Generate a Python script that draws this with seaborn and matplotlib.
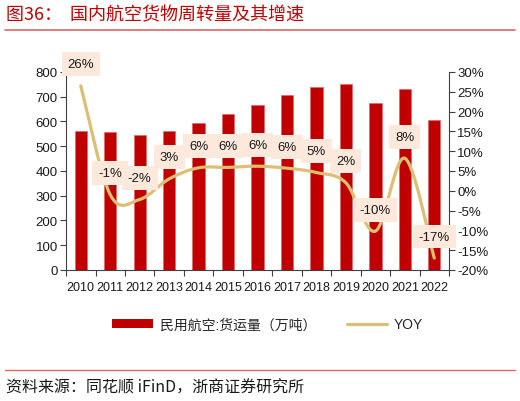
import numpy as np
import pandas as pd
import seaborn as sns
import matplotlib.pyplot as plt
from matplotlib.path import Path
from matplotlib.patches import PathPatch, Patch
from matplotlib.lines import Line2D
from matplotlib.ticker import FuncFormatter, MultipleLocator

# data
years = ['2010', '2011', '2012', '2013', '2014', '2015', '2016',
         '2017', '2018', '2019', '2020', '2021', '2022']
cargo = [563.0, 557.5, 545.0, 561.3, 594.1, 629.3, 668.0,
         705.9, 738.5, 753.1, 676.6, 731.8, 607.6]
yoy = [26.5, -1.0, -2.2, 3.0, 5.8, 5.9, 6.2, 5.7, 4.6, 2.0, -10.2, 8.2, -17.0]
yoy_labels = ['26%', '-1%', '-2%', '3%', '6%', '6%', '6%', '6%', '5%', '2%', '-10%', '8%', '-17%']

title = '图36：  国内航空货物周转量及其增速'
source = '资料来源：同花顺 iFinD，浙商证券研究所'
bar_name = '民用航空:货运量（万吨）'
line_name = 'YOY'

RED = '#C00000'
GOLD = '#DDBF74'
BOX = '#FCE9DB'
SPINE = '#404040'

sns.set_theme(style='white')
plt.rcParams['font.family'] = ['Liberation Sans', 'Noto Sans CJK SC', 'DejaVu Sans']

df = pd.DataFrame({'year': years, 'cargo': cargo, 'yoy': yoy})

fig = plt.figure(figsize=(5.2, 4.02), dpi=100)
ax = fig.add_axes([0.127, 0.326, 0.7365, 0.4925])

sns.barplot(data=df, x='year', y='cargo', color=RED, width=0.42,
            saturation=1, ax=ax, edgecolor='#E06060', linewidth=0.4)
ax.set_xlim(-0.5, len(years) - 0.5)
ax.set_ylim(0, 800)
ax.yaxis.set_major_locator(MultipleLocator(100))
ax.set_xlabel('')
ax.set_ylabel('')

ax2 = ax.twinx()
ax2.set_ylim(-20, 30)
ax2.yaxis.set_major_locator(MultipleLocator(5))
ax2.yaxis.set_major_formatter(FuncFormatter(lambda v, p: f'{v:.0f}%'))

# smoothed line (Catmull-Rom -> cubic bezier, like Excel smooth line)
xs = np.arange(len(years), dtype=float)
pts = np.column_stack([xs, yoy])
verts = [tuple(pts[0])]
codes = [Path.MOVETO]
n = len(pts)
for i in range(n - 1):
    p0 = pts[i - 1] if i > 0 else pts[i]
    p1 = pts[i]
    p2 = pts[i + 1]
    p3 = pts[i + 2] if i + 2 < n else pts[i + 1]
    c1 = p1 + (p2 - p0) / 6.0
    c2 = p2 - (p3 - p1) / 6.0
    verts += [tuple(c1), tuple(c2), tuple(p2)]
    codes += [Path.CURVE4] * 3
ax2.add_patch(PathPatch(Path(verts, codes), fill=False, edgecolor=GOLD,
                        linewidth=2.3, capstyle='round', joinstyle='round'))

for x, v, lab in zip(xs, yoy, yoy_labels):
    ax2.annotate(lab, (x, v), xytext=(0, 15.5), textcoords='offset points',
                 ha='center', va='center', fontsize=9.5, color='#1a1a1a',
                 bbox=dict(boxstyle='square,pad=0.45', fc=BOX, ec='none'),
                 zorder=5)

# axes styling
for a in (ax, ax2):
    a.spines['top'].set_visible(False)
    for s in ('left', 'right', 'bottom'):
        a.spines[s].set_color(SPINE)
        a.spines[s].set_linewidth(0.8)
ax.spines['right'].set_visible(False)
ax2.spines['left'].set_visible(False)
ax2.spines['bottom'].set_visible(False)

ax.tick_params(axis='y', which='major', direction='out', length=4, width=0.8,
               color=SPINE, labelsize=9.5, labelcolor='#1a1a1a', pad=2, left=True)
ax2.tick_params(axis='y', which='major', direction='out', length=4, width=0.8,
                color=SPINE, labelsize=9.5, labelcolor='#1a1a1a', pad=2, right=True)
ax.set_xticks(xs)
ax.set_xticklabels(years)
ax.set_xticks(np.arange(-0.5, len(years), 1.0), minor=True)
ax.tick_params(axis='x', which='major', length=0, labelsize=9,
               labelcolor='#1a1a1a', pad=8)
ax.tick_params(axis='x', which='minor', direction='out', length=4, width=0.8,
               color=SPINE, bottom=True)

# legend
handles = [Patch(facecolor=RED, edgecolor='none'),
           Line2D([0], [0], color=GOLD, linewidth=2.3)]
fig.legend(handles, [bar_name, line_name], loc='center', ncol=2,
           bbox_to_anchor=(0.515, 0.191), frameon=False, fontsize=10,
           handlelength=2.9, handleheight=0.6, handletextpad=0.5,
           columnspacing=2.2)

# title, rules, source
fig.text(0.012, 0.962, title, fontsize=13, color=RED, va='center', ha='left',
         family=['Noto Sans CJK SC', 'DejaVu Sans'])
fig.add_artist(Line2D([0.01, 0.99], [0.923, 0.923], color='#E06666', linewidth=1.2))
fig.add_artist(Line2D([0.01, 0.99], [0.078, 0.078], color='#E06666', linewidth=1.0))
fig.text(0.012, 0.035, source, fontsize=11.5, color='#1a1a1a', va='center',
         ha='left', family=['Noto Sans CJK SC', 'DejaVu Sans'])

fig.savefig('out.png', dpi=100)
